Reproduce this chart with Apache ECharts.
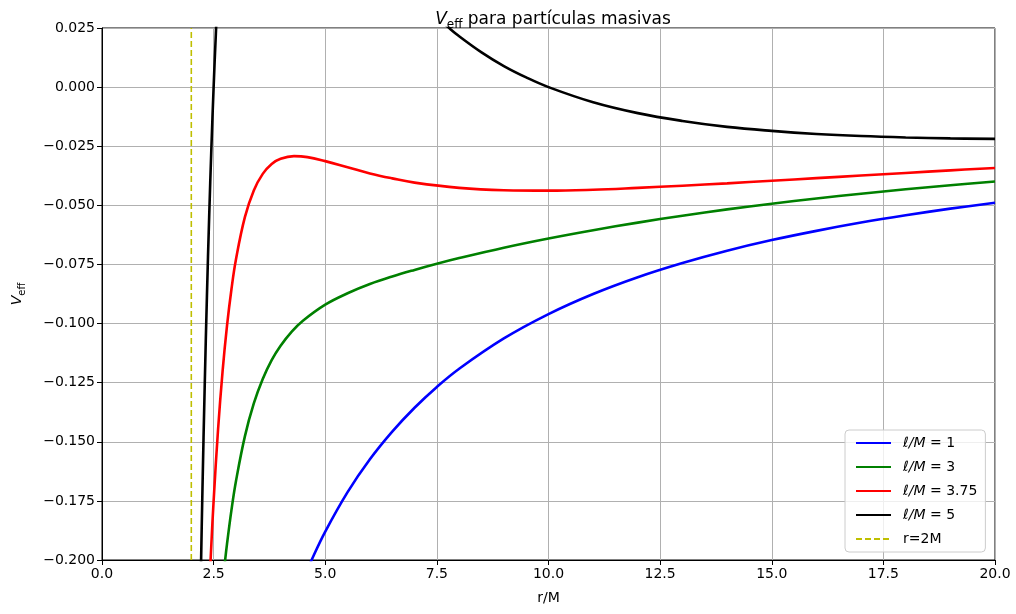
<!DOCTYPE html>
<html>
<head>
<meta charset="utf-8">
<script src="https://cdn.jsdelivr.net/npm/echarts@6/dist/echarts.min.js"></script>
<style>html,body{margin:0;padding:0;background:#fff}#c{width:1016px;height:614px}</style>
</head>
<body>
<div id="c"></div>
<script>
// ---- data ----
const seriesNames = ['ℓ/M = 1', 'ℓ/M = 3', 'ℓ/M = 3.75', 'ℓ/M = 5', 'r=2M'];

const rL1 = [4.5, 4.7, 5, 5.5, 6, 6.5, 7, 7.5, 8, 9, 10, 11, 12, 13, 14, 15, 16, 17, 18, 19, 20];
const vL1 = [-0.2085, -0.1998, -0.188, -0.1713, -0.1574, -0.1457, -0.1356, -0.1268, -0.1191, -0.1063, -0.096, -0.0875, -0.0804, -0.0744, -0.0692, -0.0647, -0.0608, -0.0573, -0.0542, -0.0514, -0.0489];

const rL3 = [2.7, 2.75, 2.8, 2.9, 3.0, 3.2, 3.4, 3.6, 3.8, 4.0, 4.25, 4.5, 5, 5.5, 6, 6.5, 7, 7.5, 8, 9, 10, 11, 12, 13, 14, 15, 16, 17, 18, 19, 20];
const vL3 = [-0.2103, -0.2014, -0.1932, -0.1788, -0.1667, -0.1477, -0.1338, -0.1235, -0.1155, -0.1094, -0.1034, -0.0988, -0.092, -0.0872, -0.0833, -0.0801, -0.0773, -0.0747, -0.0723, -0.0679, -0.064, -0.0605, -0.0573, -0.0544, -0.0517, -0.0493, -0.0471, -0.0451, -0.0432, -0.0415, -0.0399];

const rL375 = [2.4, 2.45, 2.5, 2.6, 2.7, 2.8, 2.9, 3.0, 3.2, 3.4, 3.6, 3.8, 4.0, 4.3, 4.6, 5, 5.5, 6, 6.5, 7, 8, 9, 10, 11, 12, 13, 14, 15, 16, 17, 18, 19, 20];
const vL375 = [-0.2132, -0.193, -0.175, -0.1446, -0.1203, -0.1009, -0.0854, -0.0729, -0.055, -0.0437, -0.0367, -0.0325, -0.0303, -0.0292, -0.0296, -0.0313, -0.0339, -0.0365, -0.0386, -0.0404, -0.0426, -0.0436, -0.0438, -0.0434, -0.0426, -0.0417, -0.0407, -0.0396, -0.0385, -0.0374, -0.0363, -0.0352, -0.0342];

const rL5 = [2.2, 2.25, 2.3, 2.35, 2.4, 2.45, 2.5, 2.55, 2.6, 3, 4, 5, 6, 7, 7.5, 7.75, 8, 8.5, 9, 9.5, 10, 11, 12, 13, 14, 15, 16, 17, 18, 19, 20];
const vL5 = [-0.2198, -0.1701, -0.1266, -0.0884, -0.055, -0.0257, 0.0, 0.0225, 0.0421, 0.1296, 0.1406, 0.1, 0.0648, 0.0394, 0.0296, 0.0254, 0.0215, 0.0147, 0.0089, 0.0041, 0.0, -0.0064, -0.011, -0.0143, -0.0168, -0.0185, -0.0198, -0.0207, -0.0213, -0.0217, -0.0219];

const rHorizon = [2, 2];
const vHorizon = [-0.2, 0.025];

const xTicks = [0, 2.5, 5, 7.5, 10, 12.5, 15, 17.5, 20];
const yTicks = [-0.2, -0.175, -0.15, -0.125, -0.1, -0.075, -0.05, -0.025, 0, 0.025];

// ---- chart ----
const zip = (a, b) => a.map((x, i) => [x, b[i]]);
const FONT = 'DejaVu Sans';
const colors = ['#0000ff', '#008000', '#ff0000', '#000000', '#bfbf00'];

function curve(name, r, v, color) {
  return {
    name, type: 'line', data: zip(r, v), showSymbol: false, symbol: 'none',
    smooth: 0.4, clip: true,
    lineStyle: { color, width: 2.6 }, itemStyle: { color }, z: 3
  };
}

const chart = echarts.init(document.getElementById('c'), null, { renderer: 'canvas' });
chart.setOption({
  animation: false,
  backgroundColor: '#fff',
  textStyle: { fontFamily: FONT },
  title: {
    text: '{v|V}{s|eff}{t| para partículas masivas}',
    left: 548, textAlign: 'center', top: 1,
    textStyle: {
      fontWeight: 'normal',
      rich: {
        v: { fontFamily: FONT, fontStyle: 'italic', fontWeight: 'normal', fontSize: 17, color: '#000', verticalAlign: 'bottom', lineHeight: 22 },
        s: { fontFamily: FONT, fontWeight: 'normal', fontSize: 12, color: '#000', verticalAlign: 'bottom', lineHeight: 16, padding: [0, 0, -3, 0] },
        t: { fontFamily: FONT, fontWeight: 'normal', fontSize: 17, color: '#000', verticalAlign: 'bottom', lineHeight: 22 }
      }
    }
  },
  grid: { left: 102, right: 21, top: 28, bottom: 54, show: true, borderColor: '#000', borderWidth: 1, backgroundColor: 'transparent' },
  legend: {
    orient: 'vertical', left: 845, top: 430,
    padding: [6, 8, 6, 10], itemWidth: 35, itemHeight: 14, itemGap: 10,
    backgroundColor: 'rgba(255,255,255,0.8)', borderColor: '#cccccc', borderWidth: 1, borderRadius: 4,
    itemStyle: { opacity: 0 },
    data: seriesNames,
    formatter: function (n) {
      if (n.indexOf('ℓ/M') === 0) return '{i|ℓ/M}{n|' + n.slice(3) + '}';
      return '{n|' + n + '}';
    },
    textStyle: {
      padding: [0, 0, 0, 7],
      rich: {
        i: { fontFamily: FONT, fontStyle: 'italic', fontSize: 14, color: '#000' },
        n: { fontFamily: FONT, fontSize: 14, color: '#000' }
      }
    }
  },
  xAxis: {
    type: 'value', min: 0, max: 20, interval: 2.5,
    name: 'r/M', nameLocation: 'middle', nameGap: 31,
    nameTextStyle: { fontFamily: FONT, fontSize: 14, color: '#000' },
    axisLine: { show: true, onZero: false, lineStyle: { color: '#000', width: 1 } },
    axisTick: { show: true, inside: false, length: 5, lineStyle: { color: '#000', width: 1 } },
    axisLabel: { fontFamily: FONT, fontSize: 14, color: '#000', margin: 7,
      formatter: v => (Math.abs(v) < 1e-9 ? 0 : v).toFixed(1) },
    splitLine: { show: true, lineStyle: { color: '#b0b0b0', width: 1 } }
  },
  yAxis: {
    type: 'value', min: -0.2, max: 0.025, interval: 0.025,
    name: '{v|V}{s|eff}', nameLocation: 'middle', nameGap: 78,
    nameTextStyle: {
      rich: {
        v: { fontFamily: FONT, fontStyle: 'italic', fontSize: 14, color: '#000', verticalAlign: 'bottom', lineHeight: 18 },
        s: { fontFamily: FONT, fontSize: 10, color: '#000', verticalAlign: 'bottom', lineHeight: 13, padding: [0, 0, -3, 0] }
      }
    },
    axisLine: { show: true, onZero: false, lineStyle: { color: '#000', width: 1 } },
    axisTick: { show: true, inside: false, length: 5, lineStyle: { color: '#000', width: 1 } },
    axisLabel: { fontFamily: FONT, fontSize: 14, color: '#000', margin: 7,
      formatter: v => (Math.abs(v) < 1e-9 ? 0 : v).toFixed(3).replace('-', '\u2212') },
    splitLine: { show: true, lineStyle: { color: '#b0b0b0', width: 1 } }
  },
  series: [
    curve(seriesNames[0], rL1, vL1, colors[0]),
    curve(seriesNames[1], rL3, vL3, colors[1]),
    curve(seriesNames[2], rL375, vL375, colors[2]),
    curve(seriesNames[3], rL5, vL5, colors[3]),
    {
      name: seriesNames[4], type: 'line', data: zip(rHorizon, vHorizon), showSymbol: false, symbol: 'none',
      lineStyle: { color: colors[4], width: 1.6, type: [6, 3] }, itemStyle: { color: colors[4] }, z: 2
    }
  ]
});
</script>
</body>
</html>
